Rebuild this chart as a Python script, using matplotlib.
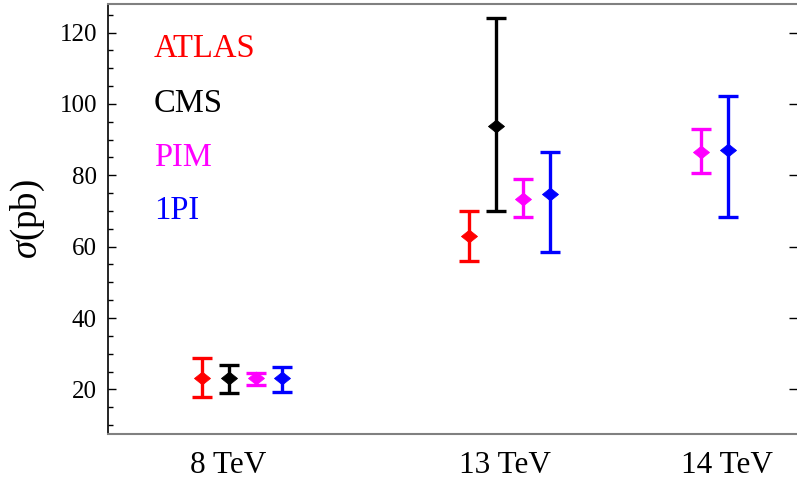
import numpy as np
import matplotlib
matplotlib.use("Agg")
import matplotlib.pyplot as plt
from matplotlib.ticker import MultipleLocator

plt.rcParams['font.family'] = ['Liberation Serif', 'DejaVu Serif']
plt.rcParams['mathtext.fontset'] = 'custom'
plt.rcParams['mathtext.it'] = 'Liberation Serif:italic'
plt.rcParams['mathtext.rm'] = 'Liberation Serif'

# data
series = ['ATLAS', 'CMS', 'PIM', '1PI']
colors = ['#ff0000', '#000000', '#ff00ff', '#0000ff']
energy_labels = ['8 TeV', '13 TeV', '14 TeV']
label_pos = [4.5, 14.84, 23.13]

# x position, central value, upper edge, lower edge for each series
atlas_x = [3.52, 13.51]
atlas_y = [23.3, 63.1]
atlas_hi = [28.9, 70.1]
atlas_lo = [18.0, 56.1]

cms_x = [4.52, 14.51]
cms_y = [23.1, 93.9]
cms_hi = [26.7, 124.0]
cms_lo = [18.9, 70.1]

pim_x = [5.52, 15.5, 22.17]
pim_y = [23.1, 73.4, 86.6]
pim_hi = [24.7, 78.9, 93.0]
pim_lo = [21.1, 68.3, 80.6]

opi_x = [6.52, 16.52, 23.17]
opi_y = [23.3, 74.7, 87.1]
opi_hi = [26.3, 86.4, 102.3]
opi_lo = [19.4, 58.5, 68.2]

xs = [atlas_x, cms_x, pim_x, opi_x]
ys = [atlas_y, cms_y, pim_y, opi_y]
his = [atlas_hi, cms_hi, pim_hi, opi_hi]
los = [atlas_lo, cms_lo, pim_lo, opi_lo]

# slightly wide diamond, like the Mathematica glyph
diamond = [(-1, 0), (0, 0.8), (1, 0), (0, -0.8), (-1, 0)]

fig = plt.figure(figsize=(7.97, 4.79), dpi=100)
ax = fig.add_axes([108/797, 1-434/479, 1-108/797, 430/479])

for x, y, hi, lo, c in zip(xs, ys, his, los, colors):
    y = np.array(y)
    err = [y - np.array(lo), np.array(hi) - y]
    ax.errorbar(x, y, yerr=err, fmt='none', ecolor=c,
                elinewidth=2.4, capsize=7.5, capthick=2.4)
    ax.plot(x, y, linestyle='none', marker=diamond, color=c, ms=11.5, mew=0.6)

ax.set_xlim(0, 689/26.75)
ax.set_ylim(7.5, 128)
ax.set_xticks(label_pos)
ax.set_xticklabels(energy_labels, fontsize=22.5)
ax.tick_params(axis='x', length=0, pad=12)

ax.yaxis.set_major_locator(MultipleLocator(20))
ax.yaxis.set_minor_locator(MultipleLocator(5))
ax.set_yticks([20, 40, 60, 80, 100, 120])
ax.tick_params(axis='y', which='major', direction='in', length=6, width=1,
               labelsize=18, pad=8, right=True)
ax.tick_params(axis='y', which='minor', direction='in', length=3.6, width=1)

ax.spines['left'].set_color('black')
ax.spines['left'].set_linewidth(1.2)
for s in ['top', 'bottom']:
    ax.spines[s].set_color('#808080')
    ax.spines[s].set_linewidth(1.5)
ax.spines['right'].set_visible(False)

ax.set_ylabel(r'$\sigma$(pb)', fontsize=26.5)
ax.yaxis.set_label_coords(-0.088, 0.499)

legend_y = [0.877, 0.749, 0.623, 0.5]
for name, c, ty in zip(series, colors, legend_y):
    ax.text(0.0668, ty, name, color=c, fontsize=23.5, transform=ax.transAxes,
            va='baseline', ha='left')

fig.savefig('out.png', dpi=100)
